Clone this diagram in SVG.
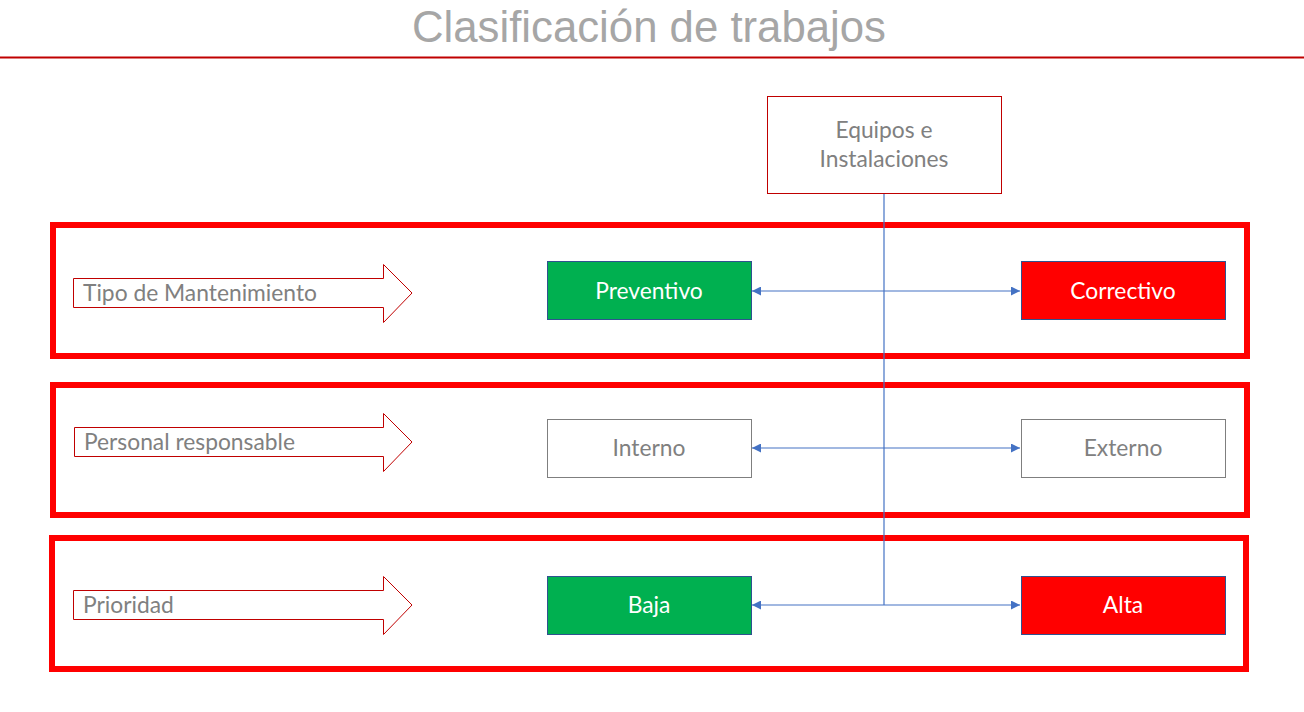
<svg xmlns="http://www.w3.org/2000/svg" width="1304" height="712" viewBox="0 0 1304 712">
<defs>
<marker id="ah" viewBox="0 0 10 10" refX="10" refY="5" markerWidth="9" markerHeight="9" markerUnits="userSpaceOnUse" orient="auto-start-reverse">
<path d="M0,0 L10,5 L0,10 z" fill="#4472C4"/>
</marker>
<style>
.frame{fill:none;stroke:#FF0000;stroke-width:6}
.barrow{fill:#fff;stroke:#C00000;stroke-width:1}
.lbl{font-family:Lato,"Open Sans","Liberation Sans",sans-serif;font-size:22.8px;fill:#808080}
.btxt{font-family:Lato,"Open Sans","Liberation Sans",sans-serif;font-size:22.8px;fill:#fff;text-anchor:middle}
.gtxt{font-family:Lato,"Open Sans","Liberation Sans",sans-serif;font-size:22.8px;fill:#808080;text-anchor:middle}
.green{fill:#00B050;stroke:#2F528F;stroke-width:1}
.red{fill:#FF0000;stroke:#2F528F;stroke-width:1}
.white{fill:#fff;stroke:#7F7F7F;stroke-width:1}
.conn{stroke:#4472C4;stroke-width:1.2;fill:none}
</style>
</defs>
<rect width="1304" height="712" fill="#fff"/>
<g id="title">
<text x="649" y="42" text-anchor="middle" font-family="Liberation Sans, Arial, sans-serif" font-size="44" fill="#A6A6A6" textLength="474" lengthAdjust="spacingAndGlyphs">Clasificación de trabajos</text>
<line x1="0" y1="57.5" x2="1304" y2="57.5" stroke="#C00000" stroke-width="2"/>
</g>
<g id="frames">
<rect class="frame" x="53" y="225" width="1194" height="131"/>
<rect class="frame" x="53" y="385" width="1194" height="130"/>
<rect class="frame" x="52" y="538" width="1194" height="131"/>
</g>
<g id="equipos">
<rect x="767.5" y="96.5" width="234" height="97" fill="#fff" stroke="#C00000" stroke-width="1"/>
<text class="gtxt" x="884" y="138">Equipos e</text>
<text class="gtxt" x="884" y="167">Instalaciones</text>
</g>
<g id="connectors">
<line class="conn" x1="884" y1="194" x2="884" y2="605"/>
<line class="conn" x1="752" y1="291" x2="1020" y2="291" marker-start="url(#ah)" marker-end="url(#ah)"/>
<line class="conn" x1="752" y1="448" x2="1020" y2="448" marker-start="url(#ah)" marker-end="url(#ah)"/>
<line class="conn" x1="752" y1="605" x2="1020" y2="605" marker-start="url(#ah)" marker-end="url(#ah)"/>
</g>
<g id="row1-label">
<polygon class="barrow" points="73.5,278.5 383.5,278.5 383.5,264.5 412,293 383.5,322.5 383.5,307.5 73.5,307.5"/>
<text class="lbl" x="83" y="301">Tipo de Mantenimiento</text>
</g>
<g id="row2-label">
<polygon class="barrow" points="74.5,427.5 383.5,427.5 383.5,413.5 412,442 383.5,471.5 383.5,456.5 74.5,456.5"/>
<text class="lbl" x="84" y="450">Personal responsable</text>
</g>
<g id="row3-label">
<polygon class="barrow" points="73.5,590.5 383.5,590.5 383.5,576.5 412,605 383.5,634.5 383.5,619.5 73.5,619.5"/>
<text class="lbl" x="83" y="613">Prioridad</text>
</g>
<g id="preventivo"><rect class="green" x="547.5" y="261.5" width="204" height="58"/><text class="btxt" x="649" y="299">Preventivo</text></g>
<g id="correctivo"><rect class="red" x="1021.5" y="261.5" width="204" height="58"/><text class="btxt" x="1123" y="299">Correctivo</text></g>
<g id="interno"><rect class="white" x="547.5" y="419.5" width="204" height="58"/><text class="gtxt" x="649" y="456">Interno</text></g>
<g id="externo"><rect class="white" x="1021.5" y="419.5" width="204" height="58"/><text class="gtxt" x="1123" y="456">Externo</text></g>
<g id="baja"><rect class="green" x="547.5" y="576.5" width="204" height="58"/><text class="btxt" x="649" y="613">Baja</text></g>
<g id="alta"><rect class="red" x="1021.5" y="576.5" width="204" height="58"/><text class="btxt" x="1123" y="613">Alta</text></g>
</svg>
